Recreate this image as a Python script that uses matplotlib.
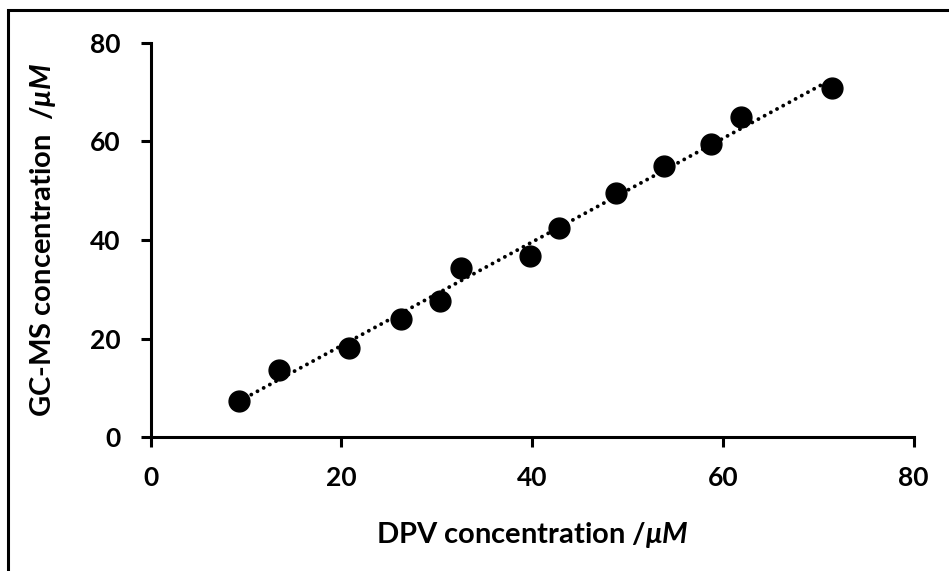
import matplotlib
matplotlib.use("Agg")
import matplotlib.pyplot as plt
from matplotlib.patches import Rectangle
import numpy as np

plt.rcParams['font.family'] = ['Lato', 'DejaVu Sans']
plt.rcParams['font.weight'] = 'bold'
plt.rcParams['axes.labelweight'] = 'bold'
plt.rcParams['mathtext.fontset'] = 'custom'
plt.rcParams['mathtext.it'] = 'Lato:italic:bold'
plt.rcParams['mathtext.rm'] = 'Lato:bold'

# DPV vs GC-MS concentrations (uM)
dpv = [9.25, 13.5, 20.8, 26.2, 30.3, 32.5, 39.8, 42.8, 48.8, 53.8, 58.8, 61.9, 71.5]
gcms = [7.4, 13.6, 18.1, 24.0, 27.6, 34.3, 36.8, 42.4, 49.6, 55.1, 59.4, 64.9, 70.8]
ticks = [0, 20, 40, 60, 80]

x = np.array(dpv)
y = np.array(gcms)
slope, icpt = np.polyfit(x, y, 1)
xfit = np.array([x.min(), x.max()])

fig = plt.figure(figsize=(9.49, 5.71), dpi=100)
ax = fig.add_axes([0.1588, 0.2342, 0.8038, 0.691])

ax.plot(xfit, slope * xfit + icpt, color='black', lw=2.8,
        linestyle=(0, (0.01, 1.8)), dash_capstyle='round', zorder=2)
ax.scatter(x, y, s=225, color='black', zorder=3)

ax.set_xlim(0, 80)
ax.set_ylim(0, 80)
ax.set_xticks(ticks)
ax.set_yticks(ticks)
ax.set_xticklabels([str(t) for t in ticks], fontweight='bold', fontsize=19)
ax.set_yticklabels([str(t) for t in ticks], fontweight='bold', fontsize=19)
for s in ['top', 'right']:
    ax.spines[s].set_visible(False)
for s in ['left', 'bottom']:
    ax.spines[s].set_linewidth(2.2)
ax.tick_params(width=2.2, length=7, direction='out')
ax.tick_params(axis='y', pad=15)
ax.tick_params(axis='x', pad=14)

ax.set_xlabel(r'DPV concentration /$μM$', fontsize=21, fontweight='bold', labelpad=21)
ax.set_ylabel(r'GC-MS concentration  /$μM$', fontsize=21, fontweight='bold', labelpad=23)

# frame around the figure (only left/top visible in the crop)
fig.patches.append(Rectangle((8 / 949, -0.1), 1.2, 1 - 10 / 571 + 0.1,
                             transform=fig.transFigure, fill=False,
                             edgecolor='black', lw=2.2, zorder=0))

fig.savefig('out.png', dpi=100)
